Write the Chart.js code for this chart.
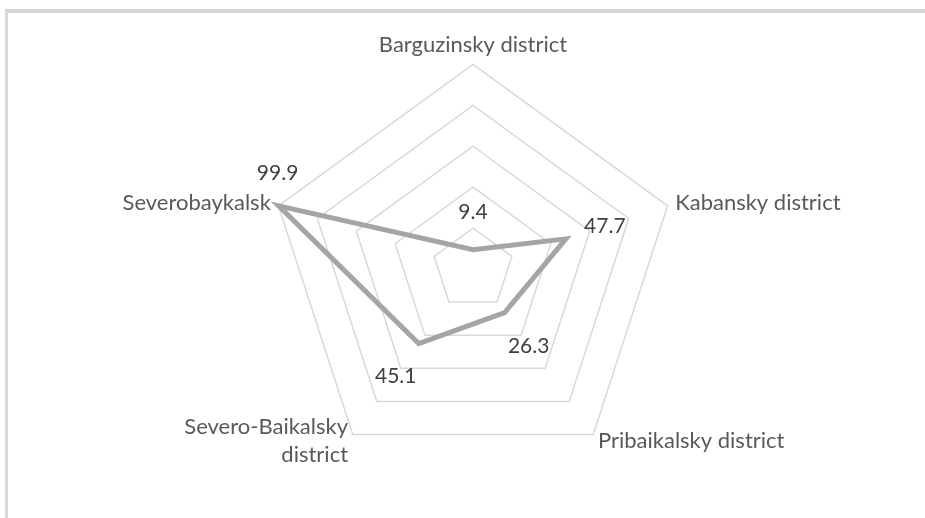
<!DOCTYPE html>
<html>
<head>
<meta charset="utf-8">
<script src="https://cdn.jsdelivr.net/npm/chart.js@4.4.1/dist/chart.umd.min.js"></script>
<style>
  html, body { margin: 0; padding: 0; background: #fff; }
  #wrap { position: relative; width: 925px; height: 518px; }
  #frame {
    position: absolute; left: 5px; top: 9px; right: 0; bottom: 0;
    border-top: 4px solid #d6d6d6; border-left: 3px solid #d9d9d9;
  }
  #chart { position: absolute; left: 0; top: 0; }
</style>
</head>
<body>
<div id="wrap">
  <div id="frame"></div>
  <canvas id="chart" width="925" height="518"></canvas>
</div>
<script>
// ── Data ────────────────────────────────────────────────────────────────
const categories = [
    'Barguzinsky district',
    'Kabansky district',
    'Pribaikalsky district',
    ['Severo-Baikalsky', 'district'],
    'Severobaykalsk',
];
const values = [9.4, 47.7, 26.3, 45.1, 99.9];
const valueLabels = ['9.4', '47.7', '26.3', '45.1', '99.9'];

// ── Value labels (drawn next to each point) ─────────────────────────────
const labelOffsets = [[0, -38], [39, -13], [24, 34], [-23, 33], [-1, -33]];

const valueLabelPlugin = {
    id: 'valueLabels',
    afterDatasetsDraw(chart) {
        const { ctx } = chart;
        const meta = chart.getDatasetMeta(0);
        ctx.save();
        ctx.font = '21px Lato';
        ctx.fillStyle = '#404040';
        ctx.textAlign = 'center';
        ctx.textBaseline = 'middle';
        meta.data.forEach((pt, i) => {
            const [dx, dy] = labelOffsets[i];
            ctx.fillText(valueLabels[i], pt.x + dx, pt.y + dy);
        });
        ctx.restore();
    },
};

// ── Category labels: Excel-like placement, centred on each vertex ───────
// Chart.js still lays out its own (transparent) point labels so the radius fits.
const categoryLabelPlugin = {
    id: 'categoryLabels',
    afterDraw(chart) {
        const { ctx } = chart;
        const scale = chart.scales.r;
        const lineH = 28;
        ctx.save();
        ctx.font = '22px Lato';
        ctx.fillStyle = '#595959';
        categories.forEach((label, i) => {
            const p = scale.getPointPosition(i, scale.drawingArea + 8);
            const lines = Array.isArray(label) ? label : [label];
            const dx = p.x - scale.xCenter;
            ctx.textAlign = Math.abs(dx) < 2 ? 'center' : (dx > 0 ? 'left' : 'right');
            let y;
            if (p.y < scale.yCenter - scale.drawingArea * 0.9) {
                ctx.textBaseline = 'bottom';
                y = p.y - (lines.length - 1) * lineH;
            } else {
                ctx.textBaseline = 'middle';
                y = p.y - (lines.length - 1) * lineH / 2;
            }
            lines.forEach((ln, k) => ctx.fillText(ln, p.x, y + k * lineH));
        });
        ctx.restore();
    },
};

new Chart(document.getElementById('chart'), {
    type: 'radar',
    data: {
        labels: categories,
        datasets: [{
            data: values,
            borderColor: '#a5a5a5',
            borderWidth: 5,
            borderJoinStyle: 'miter',
            pointRadius: 0,
            fill: false,
            tension: 0,
        }],
    },
    options: {
        responsive: false,
        animation: false,
        layout: { padding: { top: 22, bottom: 18, left: 108, right: 68 } },
        plugins: {
            legend: { display: false },
            tooltip: { enabled: false },
        },
        scales: {
            r: {
                min: 0,
                max: 100,
                ticks: { stepSize: 20, display: false },
                angleLines: { display: false },
                grid: { color: '#d9d9d9', lineWidth: 1.5 },
                pointLabels: {
                    color: 'rgba(0,0,0,0)',
                    font: { family: 'Lato', size: 22 },
                    padding: 8,
                },
            },
        },
    },
    plugins: [valueLabelPlugin, categoryLabelPlugin],
});
</script>
</body>
</html>
